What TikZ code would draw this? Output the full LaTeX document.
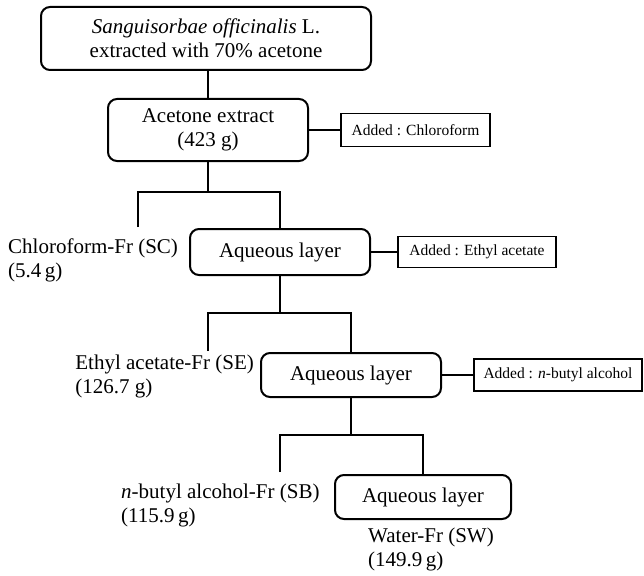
\documentclass[tikz,border=0pt]{standalone}
\usepackage{fontspec}
\setmainfont{Liberation Serif}
\begin{document}
\begin{tikzpicture}[
                    x=1pt, y=-1pt,
                    every node/.style={font=\fontsize{21}{24}\selectfont},
                    stage/.style={draw, rounded corners=9pt, line width=2pt, align=center, inner sep=0pt},
                    added/.style={draw, rectangle, line width=1.8pt, inner sep=0pt, font=\fontsize{15.5}{18}\selectfont},
                    fraction/.style={align=left, inner sep=0pt},
                    link/.style={line width=1.6pt}
                    ]
                    \useasboundingbox (0,0) rectangle (644,575);

                    \node [stage, minimum width=330pt, minimum height=63pt] (plant) at (206,38.5) {\textit{Sanguisorbae officinalis} L.\\extracted with 70\% acetone};
                    \node [stage, minimum width=200pt, minimum height=62pt] (acetone) at (208,130) {Acetone extract\\(423 g)};
                    \node [added, minimum width=149pt, minimum height=33pt] (addCl) at (415.5,130) {Added : Chloroform};

                    \node [stage, minimum width=180pt, minimum height=46pt] (aq1) at (280,252) {Aqueous layer};
                    \node [added, minimum width=158pt, minimum height=31pt] (addEA) at (477,252) {Added : Ethyl acetate};
                    \node [fraction, anchor=west] (sc) at (8,260) {Chloroform-Fr (SC)\\(5.4\,g)};

                    \node [stage, minimum width=180pt, minimum height=44pt] (aq2) at (351,375) {Aqueous layer};
                    \node [added, minimum width=168pt, minimum height=32pt] (addBu) at (558,375) {Added : \textit{n}-butyl alcohol};
                    \node [fraction, anchor=east] (se) at (254,376.5) {Ethyl acetate-Fr (SE)\\(126.7 g)};

                    \node [stage, minimum width=176pt, minimum height=44pt] (aq3) at (423,497) {Aqueous layer};
                    \node [fraction, anchor=west] (sb) at (121,505) {\textit{n}-butyl alcohol-Fr (SB)\\(115.9\,g)};
                    \node [fraction, anchor=west] (sw) at (368,549.5) {Water-Fr (SW)\\(149.9\,g)};

                    \coordinate (fork1) at (acetone.south |- 0,192);
                    \coordinate (sc-end) at (138,227);
                    \coordinate (fork2) at (aq1.south |- 0,313);
                    \coordinate (se-end) at (208,351);
                    \coordinate (fork3) at (aq2.south |- 0,435);
                    \coordinate (sb-end) at (280,472);

                    \draw [link] (acetone.north |- plant.south) -- (acetone.north);
                    \draw [link] (acetone) -- (addCl);
                    \draw [link] (acetone) -- (fork1);
                    \draw [link] (sc-end) |- (fork1) -| (aq1.north);

                    \draw [link] (aq1) -- (addEA);
                    \draw [link] (aq1) -- (fork2);
                    \draw [link] (se-end) |- (fork2) -| (aq2.north);

                    \draw [link] (aq2) -- (addBu);
                    \draw [link] (aq2) -- (fork3);
                    \draw [link] (sb-end) |- (fork3) -| (aq3.north);
                \end{tikzpicture}
\end{document}
